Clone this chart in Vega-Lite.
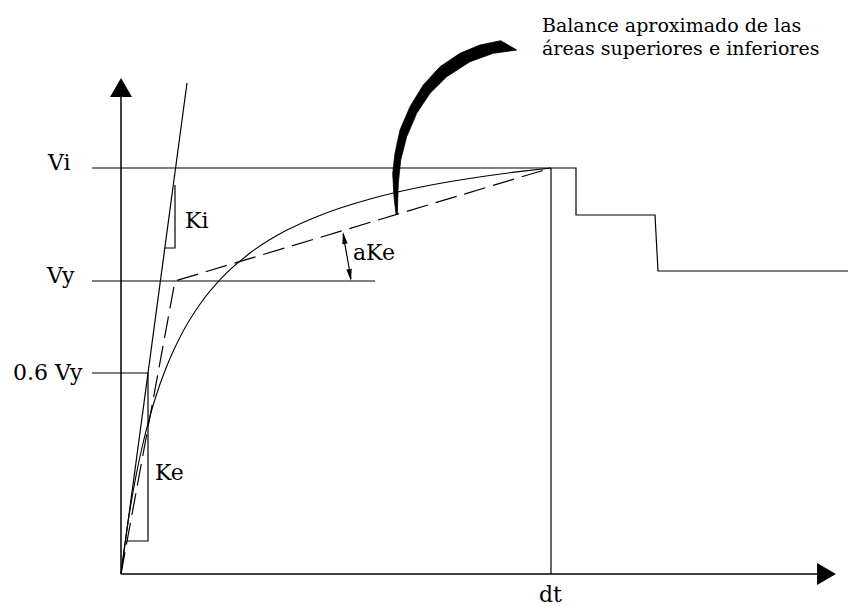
{
  "$schema": "https://vega.github.io/schema/vega-lite/v6.json",
  "width": 848,
  "height": 606,
  "autosize": {"type": "none"},
  "padding": 0,
  "background": "white",
  "config": {"view": {"stroke": null}, "text": {"font": "DejaVu Serif"}},
  "datasets": {
    "axes": [
      {"id": "y", "order": 0, "x": 0, "y": 0},
      {"id": "y", "order": 1, "x": 0, "y": 478},
      {"id": "x", "order": 0, "x": 0, "y": 0},
      {"id": "x", "order": 1, "x": 696, "y": 0}
    ],
    "lines": [
      {"id": "vi", "order": 0, "x": -29, "y": 406},
      {"id": "vi", "order": 1, "x": 455, "y": 406},
      {"id": "vi", "order": 2, "x": 455, "y": 359},
      {"id": "vi", "order": 3, "x": 534, "y": 359},
      {"id": "vi", "order": 4, "x": 537, "y": 303},
      {"id": "vi", "order": 5, "x": 727, "y": 303},
      {"id": "dt", "order": 0, "x": 430, "y": 406},
      {"id": "dt", "order": 1, "x": 430, "y": 0},
      {"id": "vy", "order": 0, "x": -29, "y": 293},
      {"id": "vy", "order": 1, "x": 254, "y": 293},
      {"id": "vy06", "order": 0, "x": -29, "y": 201},
      {"id": "vy06", "order": 1, "x": 27, "y": 201},
      {"id": "ki", "order": 0, "x": 0, "y": 0},
      {"id": "ki", "order": 1, "x": 66, "y": 491},
      {"id": "kiSlope", "order": 0, "x": 44, "y": 326},
      {"id": "kiSlope", "order": 1, "x": 54, "y": 326},
      {"id": "kiSlope", "order": 2, "x": 54, "y": 389},
      {"id": "keSlope", "order": 0, "x": 4, "y": 33},
      {"id": "keSlope", "order": 1, "x": 27, "y": 33},
      {"id": "keSlope", "order": 2, "x": 27, "y": 201},
      {"id": "angle", "order": 0, "x": 222, "y": 340},
      {"id": "angle", "order": 1, "x": 226, "y": 318},
      {"id": "angle", "order": 2, "x": 230, "y": 295}
    ],
    "bilinear": [
      {"order": 0, "x": 0, "y": 0},
      {"order": 1, "x": 54, "y": 293},
      {"order": 2, "x": 430, "y": 406}
    ],
    "curve": [
      {"x": 0, "y": 0},
      {"x": 3, "y": 23.7},
      {"x": 6, "y": 45},
      {"x": 10, "y": 70.4},
      {"x": 15, "y": 98.1},
      {"x": 20, "y": 122},
      {"x": 27, "y": 150.7},
      {"x": 35, "y": 178},
      {"x": 45, "y": 206},
      {"x": 60, "y": 238.8},
      {"x": 80, "y": 271.3},
      {"x": 100, "y": 295.4},
      {"x": 130, "y": 321.7},
      {"x": 165, "y": 343.4},
      {"x": 200, "y": 359.1},
      {"x": 250, "y": 375.3},
      {"x": 300, "y": 387},
      {"x": 350, "y": 395.7},
      {"x": 400, "y": 402.6},
      {"x": 430, "y": 406}
    ],
    "callout": [
      {"order": 0, "x": 379.7, "y": 533.3},
      {"order": 1, "x": 359, "y": 529},
      {"order": 2, "x": 339, "y": 520.7},
      {"order": 3, "x": 319, "y": 507.3},
      {"order": 4, "x": 302.3, "y": 489},
      {"order": 5, "x": 289, "y": 467.3},
      {"order": 6, "x": 279, "y": 444},
      {"order": 7, "x": 274, "y": 420.7},
      {"order": 8, "x": 271.7, "y": 400.7},
      {"order": 9, "x": 273, "y": 377.3},
      {"order": 10, "x": 275, "y": 360},
      {"order": 11, "x": 276.3, "y": 360},
      {"order": 12, "x": 277.3, "y": 390.7},
      {"order": 13, "x": 279.7, "y": 414},
      {"order": 14, "x": 285.7, "y": 437.3},
      {"order": 15, "x": 295.7, "y": 460.7},
      {"order": 16, "x": 309, "y": 480.7},
      {"order": 17, "x": 325.7, "y": 497.3},
      {"order": 18, "x": 349, "y": 512.3},
      {"order": 19, "x": 372.3, "y": 520.7},
      {"order": 20, "x": 395.7, "y": 524}
    ],
    "heads": [
      {"name": "yAxis", "x": 0, "y": 486.5},
      {"name": "xAxis", "x": 705.5, "y": 0},
      {"name": "angleTop", "x": 223, "y": 336},
      {"name": "angleBottom", "x": 229, "y": 299}
    ],
    "labels": [
      {"label": "Vi", "x": -73, "y": 404},
      {"label": "Vy", "x": -74, "y": 291},
      {"label": "0.6 Vy", "x": -108, "y": 194},
      {"label": "Ki", "x": 64, "y": 346},
      {"label": "Ke", "x": 34, "y": 94},
      {"label": "aKe", "x": 232, "y": 314},
      {"label": "dt", "x": 418, "y": -28}
    ],
    "note": [
      {"label": "Balance aproximado de las\náreas superiores e inferiores", "x": 421, "y": 542}
    ]
  },
  "encoding": {
    "x": {"field": "x", "type": "quantitative", "scale": {"domain": [-121, 727], "nice": false, "zero": false}, "axis": null},
    "y": {"field": "y", "type": "quantitative", "scale": {"domain": [-32, 574], "nice": false, "zero": false}, "axis": null}
  },
  "layer": [
    {
      "data": {"name": "axes"},
      "mark": {"type": "line", "color": "black", "strokeWidth": 1.5, "strokeCap": "butt"},
      "encoding": {"detail": {"field": "id"}, "order": {"field": "order"}}
    },
    {
      "data": {"name": "lines"},
      "mark": {"type": "line", "color": "black", "strokeWidth": 1.2, "strokeCap": "butt"},
      "encoding": {"detail": {"field": "id"}, "order": {"field": "order"}}
    },
    {
      "data": {"name": "bilinear"},
      "mark": {"type": "line", "color": "black", "strokeWidth": 1.2, "strokeDash": [22, 8], "strokeCap": "butt"},
      "encoding": {"order": {"field": "order"}}
    },
    {
      "data": {"name": "curve"},
      "mark": {"type": "line", "color": "black", "strokeWidth": 1.1, "interpolate": "monotone"},
      "encoding": {}
    },
    {
      "data": {"name": "callout"},
      "mark": {"type": "line", "fill": "black", "stroke": "black", "strokeWidth": 0.8, "interpolate": "linear-closed"},
      "encoding": {"order": {"field": "order"}}
    },
    {
      "data": {"name": "heads"},
      "transform": [{"filter": "datum.name === 'yAxis'"}],
      "mark": {"type": "point", "shape": "M0,-0.86L1,0.86L-1,0.86Z", "size": 484, "filled": true, "color": "black", "opacity": 1, "strokeWidth": 0}
    },
    {
      "data": {"name": "heads"},
      "transform": [{"filter": "datum.name === 'xAxis'"}],
      "mark": {"type": "point", "shape": "M-0.86,-1L0.86,0L-0.86,1Z", "size": 484, "filled": true, "color": "black", "opacity": 1, "strokeWidth": 0}
    },
    {
      "data": {"name": "heads"},
      "transform": [{"filter": "datum.name === 'angleTop'"}],
      "mark": {"type": "point", "shape": "M0,-1L0.45,1L-0.45,1Z", "size": 144, "angle": -9, "filled": true, "color": "black", "opacity": 1, "strokeWidth": 0}
    },
    {
      "data": {"name": "heads"},
      "transform": [{"filter": "datum.name === 'angleBottom'"}],
      "mark": {"type": "point", "shape": "M0,1L0.45,-1L-0.45,-1Z", "size": 144, "angle": -9, "filled": true, "color": "black", "opacity": 1, "strokeWidth": 0}
    },
    {
      "data": {"name": "labels"},
      "mark": {"type": "text", "align": "left", "baseline": "alphabetic", "font": "DejaVu Serif", "fontSize": 22, "color": "black"},
      "encoding": {"text": {"field": "label"}}
    },
    {
      "data": {"name": "note"},
      "mark": {"type": "text", "align": "left", "baseline": "alphabetic", "font": "DejaVu Serif", "fontSize": 19, "lineBreak": "\n", "lineHeight": 23, "color": "black"},
      "encoding": {"text": {"field": "label"}}
    }
  ]
}
